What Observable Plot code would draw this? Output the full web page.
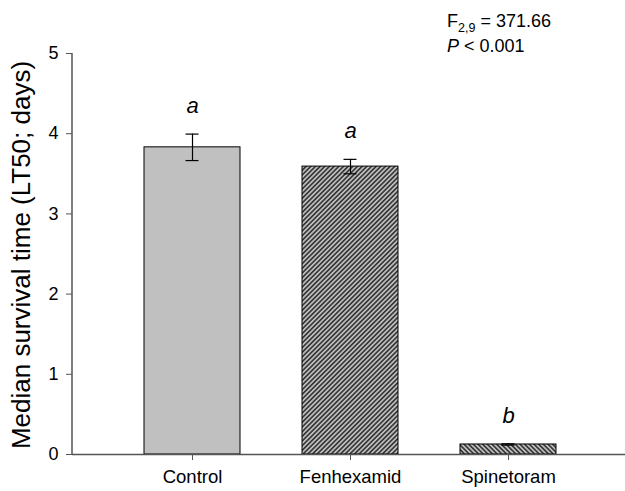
<!DOCTYPE html>
<html><head><meta charset="utf-8">
<script src="https://cdn.jsdelivr.net/npm/d3@7"></script>
<script src="https://cdn.jsdelivr.net/npm/@observablehq/plot@0.6"></script>
<style>body{margin:0;background:#fff}</style>
</head><body><div id="chart"></div>
<script>
const treatments = ["Control", "Fenhexamid", "Spinetoram"];
const lt50 = [3.83, 3.59, 0.125];
const sem = [0.165, 0.09, 0.008];
const letters = ["a", "a", "b"];
const fills = ["#c0c0c0", "url(#hatchA)", "url(#hatchB)"];
const yTicks = [0, 1, 2, 3, 4, 5];
const yLabel = "Median survival time (LT50; days)";
const statF = "371.66";
const statDf = "2,9";
const statP = "< 0.001";

const data = treatments.map((t, i) => ({
  t, v: lt50[i], lo: lt50[i] - sem[i], hi: lt50[i] + sem[i], letter: letters[i], fill: fills[i]
}));

const font = "'Liberation Sans', Arial, sans-serif";

const plot = Plot.plot({
  width: 625, height: 491,
  marginLeft: 72, marginRight: 0, marginTop: 53, marginBottom: 37,
  style: {fontFamily: font, background: "#fff", color: "#000"},
  x: {domain: treatments, paddingInner: 0.392, paddingOuter: 0.446, align: 0.51, label: null},
  y: {domain: [0, 5], label: null},
  color: {type: "identity"},
  marks: [
    Plot.barY(data, {x: "t", y: "v", fill: "fill", stroke: "#000", strokeWidth: 1}),
    Plot.ruleX(data, {x: "t", y1: "lo", y2: "hi", stroke: "#000", strokeWidth: 1.2}),
    Plot.tickY(data, {x: "t", y: "lo", insetLeft: 41.5, insetRight: 41.5, stroke: "#000", strokeWidth: 1.2}),
    Plot.tickY(data, {x: "t", y: "hi", insetLeft: 41.5, insetRight: 41.5, stroke: "#000", strokeWidth: 1.2}),
    Plot.text(data, {x: "t", y: "hi", text: "letter", dy: -28, fontSize: 22, fontStyle: "italic", fill: "#000"}),
    Plot.ruleY([0], {stroke: "#555", strokeWidth: 1.5}),
    Plot.axisY({ticks: yTicks, tickSize: 6, tickPadding: 8, fontSize: 18, stroke: "#555", fill: "#000", label: null, tickFormat: d => String(d)}),
    Plot.axisX({tickSize: 6, tickPadding: 9, fontSize: 18.5, stroke: "#555", fill: "#000", label: null}),
    Plot.text([yLabel], {frameAnchor: "left", textAnchor: "middle", lineAnchor: "middle", dx: -51, dy: 1, rotate: -90, fontSize: 26, text: d => d, fill: "#000"})
  ]
});

const svg = d3.select(plot);
const defs = svg.insert("defs", ":first-child");
function hatch(id, angle) {
  const p = defs.append("pattern").attr("id", id).attr("patternUnits", "userSpaceOnUse")
    .attr("width", 3.3).attr("height", 3.3).attr("patternTransform", `rotate(${angle})`);
  p.append("rect").attr("width", 3.3).attr("height", 3.3).attr("fill", "#bdbdbd");
  p.append("line").attr("x1", 0.8).attr("y1", -1).attr("x2", 0.8).attr("y2", 5)
    .attr("stroke", "#2b2b2b").attr("stroke-width", 1.5);
}
hatch("hatchA", 45);
hatch("hatchB", -45);

// y axis line along the frame's left edge, from scale
const ys = plot.scale("y");
const x0 = 72;
svg.append("line").attr("x1", x0).attr("x2", x0)
  .attr("y1", ys.apply(0)).attr("y2", ys.apply(5))
  .attr("stroke", "#555").attr("stroke-width", 1.5);

// statistics annotation
const ann = svg.append("g").attr("font-family", font).attr("font-size", 18)
  .attr("fill", "#000").attr("text-anchor", "start");
const t1 = ann.append("text").attr("x", 447).attr("y", 27);
t1.append("tspan").text("F");
t1.append("tspan").attr("font-size", 12.5).attr("dy", 5).text(statDf);
t1.append("tspan").attr("dy", -5).text(" = " + statF);
const t2 = ann.append("text").attr("x", 447).attr("y", 52);
t2.append("tspan").attr("font-style", "italic").text("P");
t2.append("tspan").text(" " + statP);

document.getElementById("chart").appendChild(plot);
</script>
</body></html>
